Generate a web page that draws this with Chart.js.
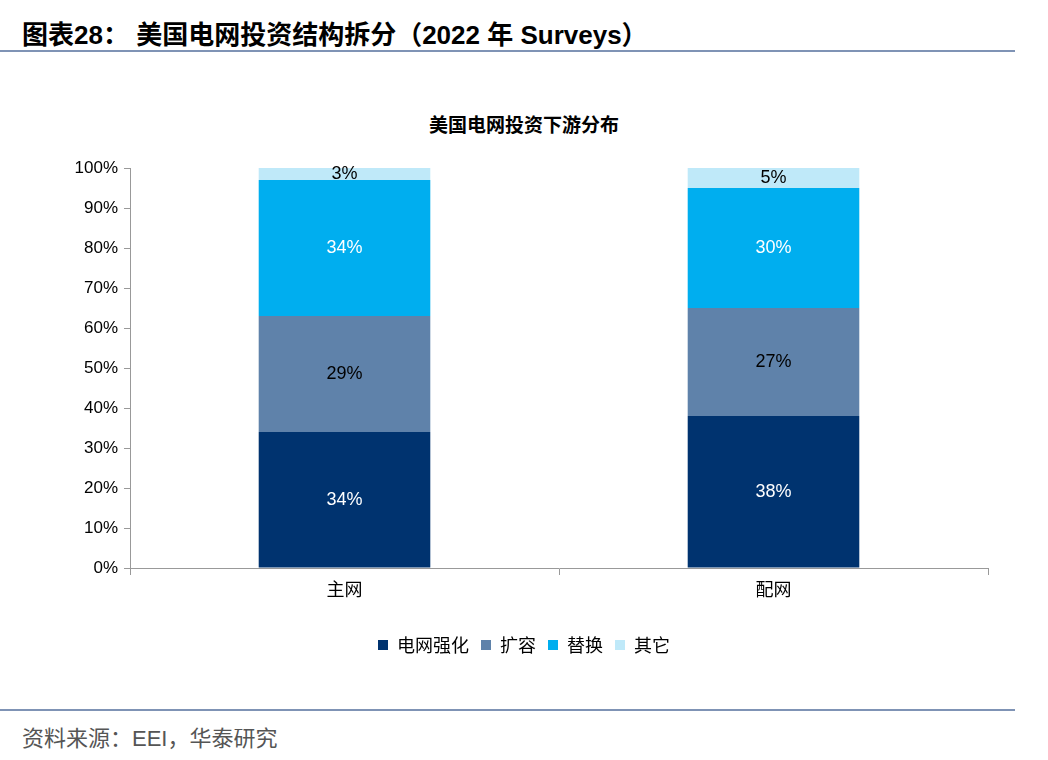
<!DOCTYPE html>
<html lang="zh">
<head>
<meta charset="UTF-8">
<title>美国电网投资结构拆分</title>
<script src="https://cdn.jsdelivr.net/npm/chart.js"></script>
<style>
  body { margin:0; width:1048px; height:760px; background:#fff; position:relative; font-family:"Liberation Sans","Noto Sans CJK SC",sans-serif; overflow:hidden; }
  .head { position:absolute; left:22px; top:14px; font-size:26px; font-weight:bold; color:#000; }
  .rule { position:absolute; left:0; width:1015px; height:2px; background:#7f93b5; }
  .sub { position:absolute; left:0; width:1048px; top:110px; text-align:center; font-size:19px; font-weight:bold; }
  .src { position:absolute; left:22px; top:720px; font-size:22px; color:#555; }
  #wrap { position:absolute; left:0; top:0; width:1048px; height:760px; }
</style>
</head>
<body>
<div class="head">图表28： 美国电网投资结构拆分（2022 年 Surveys）</div>
<div class="rule" style="top:50px"></div>
<div class="sub">美国电网投资下游分布</div>
<div class="rule" style="top:709px"></div>
<div class="src">资料来源：EEI，华泰研究</div>
<div id="wrap"><canvas id="c" width="1048" height="760"></canvas></div>
<script>
const categories = ['主网', '配网'];
const seriesNames = ['电网强化', '扩容', '替换', '其它'];
const strengthen = [34, 38];
const expand = [29, 27];
const replace = [34, 30];
const other = [3, 5];
const yTicks = [0, 10, 20, 30, 40, 50, 60, 70, 80, 90, 100];

const colors = ['#00336f', '#5f82aa', '#00aeef', '#bfe9f9'];
const labelColors = ['#fff', '#000', '#fff', '#000'];

const labelPlugin = {
  id: 'barLabels',
  afterDatasetsDraw(chart) {
    const ctx = chart.ctx;
    ctx.save();
    ctx.font = '18px "Liberation Sans", sans-serif';
    ctx.textAlign = 'center';
    ctx.textBaseline = 'middle';
    chart.data.datasets.forEach((ds, i) => {
      chart.getDatasetMeta(i).data.forEach((bar, j) => {
        ctx.fillStyle = labelColors[i];
        ctx.fillText(ds.data[j] + '%', bar.x, (bar.y + bar.base) / 2);
      });
    });
    ctx.restore();
  }
};

new Chart(document.getElementById('c'), {
  type: 'bar',
  data: {
    labels: categories,
    datasets: [strengthen, expand, replace, other].map((d, i) => ({
      label: seriesNames[i], data: d, backgroundColor: colors[i],
      barPercentage: 0.4, categoryPercentage: 1
    }))
  },
  options: {
    responsive: false, animation: false, devicePixelRatio: 1,
    layout: { padding: { top: 168, left: 60, right: 60, bottom: 96 } },
    plugins: {
      legend: {
        position: 'bottom',
        labels: { boxWidth: 10, boxHeight: 10, padding: 12, color: '#000',
          font: { size: 18, family: '"Noto Sans CJK SC", sans-serif' } }
      },
      tooltip: { enabled: false }
    },
    scales: {
      x: {
        stacked: true,
        afterFit(s) { s.height = 56; },
        grid: { offset: true, drawOnChartArea: false, color: '#999', tickLength: 7 },
        border: { color: '#999' },
        ticks: { color: '#000', font: { size: 18, family: '"Noto Sans CJK SC", sans-serif' } }
      },
      y: {
        stacked: true, min: 0, max: 100,
        afterFit(s) { s.width = 70; },
        afterBuildTicks(s) { s.ticks = yTicks.map(v => ({ value: v })); },
        grid: { drawOnChartArea: false, color: '#999', tickLength: 6 },
        border: { color: '#999' },
        ticks: { color: '#000', padding: 6, font: { size: 17, family: '"Liberation Sans", sans-serif' },
          callback: v => v + '%' }
      }
    }
  },
  plugins: [labelPlugin]
});
</script>
</body>
</html>
